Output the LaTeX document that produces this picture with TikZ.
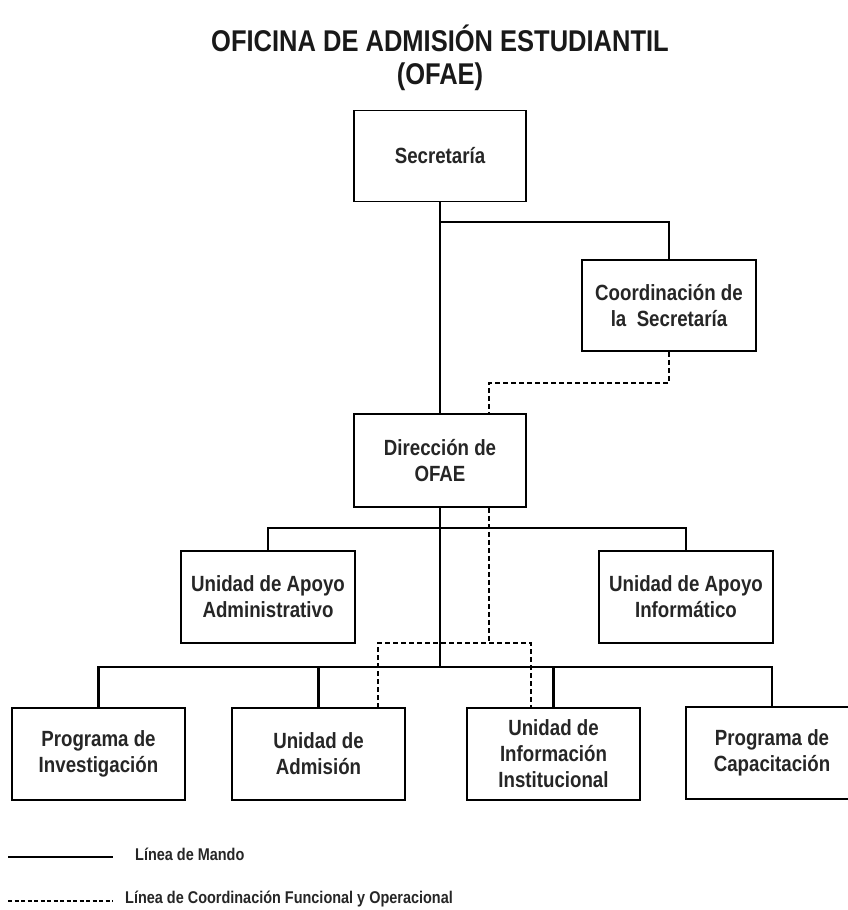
\documentclass[tikz,border=0pt]{standalone}
\usepackage{fontspec}
\setmainfont{Liberation Sans}[FakeStretch=0.85]
\begin{document}
\begin{tikzpicture}[x=1pt,y=-1pt,
  box/.style={draw=black,line width=1.6pt,fill=white,minimum width=173pt,minimum height=92pt,align=center,inner sep=0pt,
    font=\fontsize{22}{26}\selectfont\bfseries,text=black!85},
  mando/.style={draw=black,line width=2.5pt},
  coordl/.style={draw=black,line width=2.2pt,dash pattern=on 5pt off 3pt},
  lbl/.style={font=\fontsize{17}{20}\selectfont\bfseries,text=black!85,anchor=west,inner sep=0pt}]
\useasboundingbox (0,0) rectangle (848,910);
\clip (0,0) rectangle (848,910);
\node[font=\fontsize{30}{33}\selectfont\bfseries,align=center,text=black!90] (title) at (440,58) {OFICINA DE ADMISIÓN ESTUDIANTIL\\(OFAE)};
% boxes
\node[box,minimum width=172pt,minimum height=91pt] (sec) at (440,156) {Secretaría};
\node[box,minimum width=174pt,minimum height=91pt] (coord) at (669,305.5) {Coordinación de\\la\ \ Secretaría};
\node[box,minimum width=172pt,minimum height=93pt] (dir) at (440,460.5) {Dirección de\\OFAE};
\node[box,minimum width=174pt] (adm) at (268,597) {Unidad de Apoyo\\Administrativo};
\node[box,minimum width=174pt] (inf) at (686,597) {Unidad de Apoyo\\Informático};
\node[box] (inv) at (98.5,754) {Programa de\\Investigación};
\node[box] (uad) at (318.5,754) {Unidad de\\Admisión};
\node[box] (uii) at (553.5,754) {Unidad de\\Información\\Institucional};
\node[box,minimum width=172pt] (cap) at (772,753) {Programa de\\Capacitación};
% solid lines
\coordinate (j1) at (440,222);
\coordinate (j2) at (440,528);
\coordinate (j3) at (440,667);
\draw[mando] (sec.south) -- (dir.north);
\draw[mando] (j1) -| (coord.north);
\draw[mando] (dir.south) -- (j3);
\draw[mando] (adm.north) |- (j2) -| (inf.north);
\draw[mando] (inv.north) |- (j3) -| (cap.north);
\draw[mando] (uad.north) |- (j3);
\draw[mando] (uii.north) |- (j3);
% dashed lines
\coordinate (d1) at (489,383);
\coordinate (d2) at (489,643);
\draw[coordl] (coord.south) |- (d1) -- (d1 |- dir.north);
\draw[coordl] (d2 |- dir.south) -- (d2);
\draw[coordl] (378,708) |- (d2) -| (531,708);
% legend
\coordinate (l1a) at (8,857);
\coordinate (l1b) at (113,857);
\coordinate (l2a) at (8,901);
\coordinate (l2b) at (113,901);
\draw[draw=black,line width=2.5pt] (l1a) -- (l1b);
\draw[draw=black,line width=2pt,dash pattern=on 4pt off 2.5pt] (l2a) -- (l2b);
\node[lbl] (t1) at (135,854) {Línea de Mando};
\node[lbl] (t2) at (125,899) {Línea de Coordinación Funcional y Operacional};
\end{tikzpicture}
\end{document}
